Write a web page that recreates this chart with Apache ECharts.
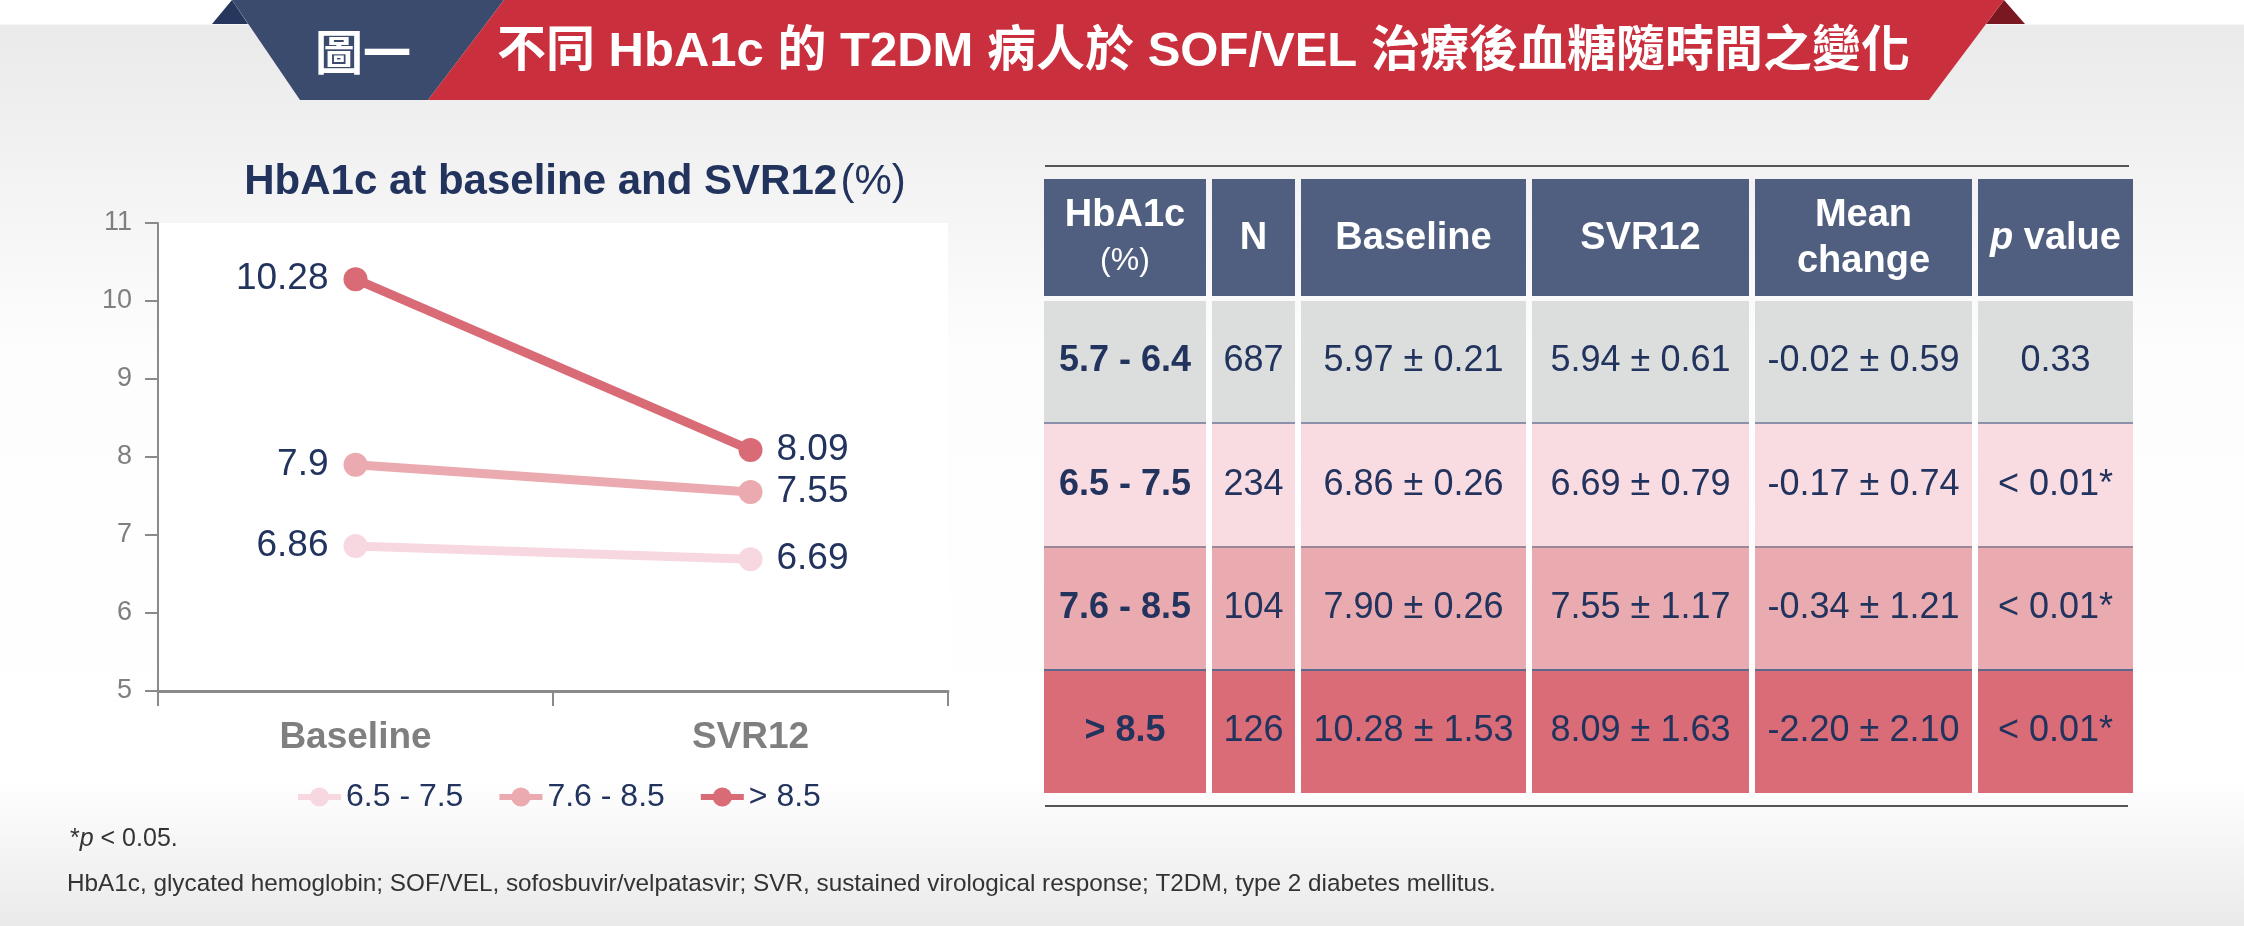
<!DOCTYPE html>
<html>
<head>
<meta charset="utf-8">
<script src="https://cdn.jsdelivr.net/npm/echarts@6/dist/echarts.min.js"></script>
<style>
html, body { margin: 0; padding: 0; background: #fff; }
#main { width: 2244px; height: 926px; }
</style>
</head>
<body>
<div id="main"></div>
<script>
// chart data
var categories = ['Baseline', 'SVR12'];
var groupNames = ['6.5 - 7.5', '7.6 - 8.5', '> 8.5'];
var group65 = [6.86, 6.69];
var group76 = [7.9, 7.55];
var group85 = [10.28, 8.09];
var yRange = [5, 11];

// table data
var tableHeader = ['{b|HbA1c}\n{s|(%)}', '{b|N}', '{b|Baseline}', '{b|SVR12}', '{b|Mean}\n{b|change}', '{i|p}{b| value}'];
var tableGroups = ['5.7 - 6.4', '6.5 - 7.5', '7.6 - 8.5', '> 8.5'];
var tableN = ['687', '234', '104', '126'];
var tableBaseline = ['5.97 ± 0.21', '6.86 ± 0.26', '7.90 ± 0.26', '10.28 ± 1.53'];
var tableSvr12 = ['5.94 ± 0.61', '6.69 ± 0.79', '7.55 ± 1.17', '8.09 ± 1.63'];
var tableChange = ['-0.02 ± 0.59', '-0.17 ± 0.74', '-0.34 ± 1.21', '-2.20 ± 2.10'];
var tablePValue = ['0.33', '< 0.01*', '< 0.01*', '< 0.01*'];

var bannerTag = '圖一';
var bannerTitle = '不同 HbA1c 的 T2DM 病人於 SOF/VEL 治療後血糖隨時間之變化';
var chartTitle = '{b|HbA1c at baseline and SVR12} {n|(%)}';
var footNotes = ['*{i|p} < 0.05.', 'HbA1c, glycated hemoglobin; SOF/VEL, sofosbuvir/velpatasvir; SVR, sustained virological response; T2DM, type 2 diabetes mellitus.'];

var FONT = '"Liberation Sans", Arial, "Noto Sans CJK TC", sans-serif';
var NAVY = '#22335e';
var GRAY = '#7f7f7f';
var AXIS = '#8a8a8a';
var lineColors = ['#f8d8e0', '#eaaab0', '#d96b76'];

var chart = echarts.init(document.getElementById('main'));

function makeSeries(name, values, color) {
  return {
    name: name,
    type: 'line',
    symbol: 'circle',
    symbolSize: 24,
    itemStyle: { color: color },
    lineStyle: { color: color, width: 9 },
    label: {
      show: true,
      color: NAVY,
      fontSize: 37,
      fontFamily: FONT
    },
    emphasis: { disabled: true },
    data: [
      { value: values[0], label: { position: 'left', distance: 15 } },
      { value: values[1], label: { position: 'right', distance: 14 } }
    ]
  };
}

// table layout
var cols = [[1044, 162], [1212, 83], [1301, 225], [1532, 217], [1755, 217], [1978, 155]];
var headTop = 179, headH = 117;
var rowTop = [301, 423, 547, 670];
var rowH = [121, 124, 123, 123];
var rowFill = ['#dcdedd', '#f9dbe2', '#eaabb0', '#d96c76'];
var rowLine = [null, '#8c90aa', '#9a8898', '#5b6a8c'];

var graphics = [];

// page background
graphics.push({
  type: 'rect', z: -10, silent: true,
  shape: { x: 0, y: 0, width: 2244, height: 926 },
  style: {
    fill: new echarts.graphic.LinearGradient(0, 0, 0, 1, [
      { offset: 0, color: '#ffffff' },
      { offset: 0.026, color: '#ffffff' },
      { offset: 0.027, color: '#eaeaea' },
      { offset: 0.38, color: '#fdfdfd' },
      { offset: 0.84, color: '#ffffff' },
      { offset: 1, color: '#eaeaea' }
    ])
  }
});

// banner
graphics.push({ type: 'polygon', silent: true, shape: { points: [[232, 0], [212, 24], [248, 24]] }, style: { fill: '#26365c' } });
graphics.push({ type: 'polygon', silent: true, shape: { points: [[2004, 0], [2025, 24], [1986, 24]] }, style: { fill: '#7a1821' } });
graphics.push({ type: 'polygon', silent: true, shape: { points: [[232, 0], [504, 0], [428, 100], [300, 100]] }, style: { fill: '#3b4b6e' } });
graphics.push({ type: 'polygon', silent: true, shape: { points: [[504, 0], [2004, 0], [1929, 100], [428, 100]] }, style: { fill: '#c92f3c' } });
graphics.push({
  type: 'text', silent: true,
  style: { x: 363, y: 52, text: bannerTag, fill: '#fff', font: 'bold 48px "Noto Sans CJK TC", sans-serif', align: 'center', verticalAlign: 'middle' }
});
graphics.push({
  type: 'text', silent: true,
  style: { x: 497, y: 52, text: bannerTitle, fill: '#fff', font: 'bold 49px ' + FONT, align: 'left', verticalAlign: 'middle' }
});

// chart title
graphics.push({
  type: 'text', silent: true,
  style: {
    x: 575, y: 182, text: chartTitle, align: 'center', verticalAlign: 'middle',
    rich: {
      b: { fontSize: 42, fontWeight: 'bold', fontFamily: FONT, fill: NAVY },
      n: { fontSize: 42, fontFamily: FONT, fill: NAVY }
    }
  }
});

// table rules
graphics.push({ type: 'line', silent: true, shape: { x1: 1045, y1: 166, x2: 2129, y2: 166 }, style: { stroke: '#555', lineWidth: 2 } });
graphics.push({ type: 'line', silent: true, shape: { x1: 1045, y1: 806, x2: 2128, y2: 806 }, style: { stroke: '#555', lineWidth: 2 } });

// header cells
cols.forEach(function (c, i) {
  graphics.push({ type: 'rect', silent: true, shape: { x: c[0], y: headTop, width: c[1], height: headH }, style: { fill: '#505f80' } });
  graphics.push({
    type: 'text', silent: true,
    style: {
      x: c[0] + c[1] / 2, y: headTop + headH / 2 + 1, text: tableHeader[i], align: 'center', verticalAlign: 'middle',
      rich: {
        b: { fontSize: 38, fontWeight: 'bold', fontFamily: FONT, fill: '#fff', lineHeight: 46, align: 'center' },
        s: { fontSize: 32, fontFamily: FONT, fill: '#fff', lineHeight: 46, align: 'center' },
        i: { fontSize: 38, fontWeight: 'bold', fontStyle: 'italic', fontFamily: FONT, fill: '#fff', lineHeight: 46 }
      }
    }
  });
});

// body cells
var tableCols = [tableGroups, tableN, tableBaseline, tableSvr12, tableChange, tablePValue];
rowTop.forEach(function (top, r) {
  cols.forEach(function (c, i) {
    graphics.push({ type: 'rect', silent: true, shape: { x: c[0], y: top, width: c[1], height: rowH[r] }, style: { fill: rowFill[r] } });
    if (rowLine[r]) {
      graphics.push({ type: 'rect', silent: true, shape: { x: c[0], y: top - 1, width: c[1], height: 2 }, style: { fill: rowLine[r] } });
    }
    graphics.push({
      type: 'text', silent: true,
      style: {
        x: c[0] + c[1] / 2, y: top + rowH[r] / 2, text: tableCols[i][r],
        align: 'center', verticalAlign: 'middle',
        font: (i === 0 ? 'bold ' : '') + '36px ' + FONT, fill: NAVY
      }
    });
  });
});

// foot notes
graphics.push({
  type: 'text', silent: true,
  style: {
    x: 70, y: 839, text: footNotes[0], verticalAlign: 'middle',
    font: '25px ' + FONT, fill: '#333',
    rich: { i: { fontSize: 25, fontStyle: 'italic', fontFamily: FONT, fill: '#333' } }
  }
});
graphics.push({
  type: 'text', silent: true,
  style: { x: 67, y: 884, text: footNotes[1], verticalAlign: 'middle', font: '24.3px ' + FONT, fill: '#333' }
});

var option = {
  animation: false,
  backgroundColor: '#fff',
  textStyle: { fontFamily: FONT },
  legend: {
    data: groupNames,
    left: 290,
    top: 776,
    itemWidth: 43,
    itemHeight: 24,
    itemGap: 33,
    lineStyle: { width: 6 },
    textStyle: { fontSize: 32, color: NAVY, fontFamily: FONT }
  },
  grid: {
    left: 158, right: 1296, top: 223, bottom: 235,
    show: true, backgroundColor: '#fff', borderWidth: 0,
    containLabel: false
  },
  xAxis: {
    type: 'category',
    data: categories,
    boundaryGap: true,
    axisLine: { lineStyle: { color: AXIS, width: 3 } },
    axisTick: { show: true, length: 15, lineStyle: { color: AXIS, width: 2 } },
    axisLabel: { margin: 28, fontSize: 37, fontWeight: 'bold', color: GRAY, fontFamily: FONT },
    splitLine: { show: false }
  },
  yAxis: {
    type: 'value',
    min: yRange[0],
    max: yRange[1],
    interval: 1,
    axisLine: { show: true, lineStyle: { color: AXIS, width: 2 } },
    axisTick: { show: true, length: 13, lineStyle: { color: AXIS, width: 2 } },
    axisLabel: { margin: 26, fontSize: 27, color: GRAY, fontFamily: FONT },
    splitLine: { show: false }
  },
  graphic: { elements: graphics },
  series: [
    makeSeries(groupNames[0], group65, lineColors[0]),
    makeSeries(groupNames[1], group76, lineColors[1]),
    makeSeries(groupNames[2], group85, lineColors[2])
  ]
};

chart.setOption(option);
</script>
</body>
</html>
